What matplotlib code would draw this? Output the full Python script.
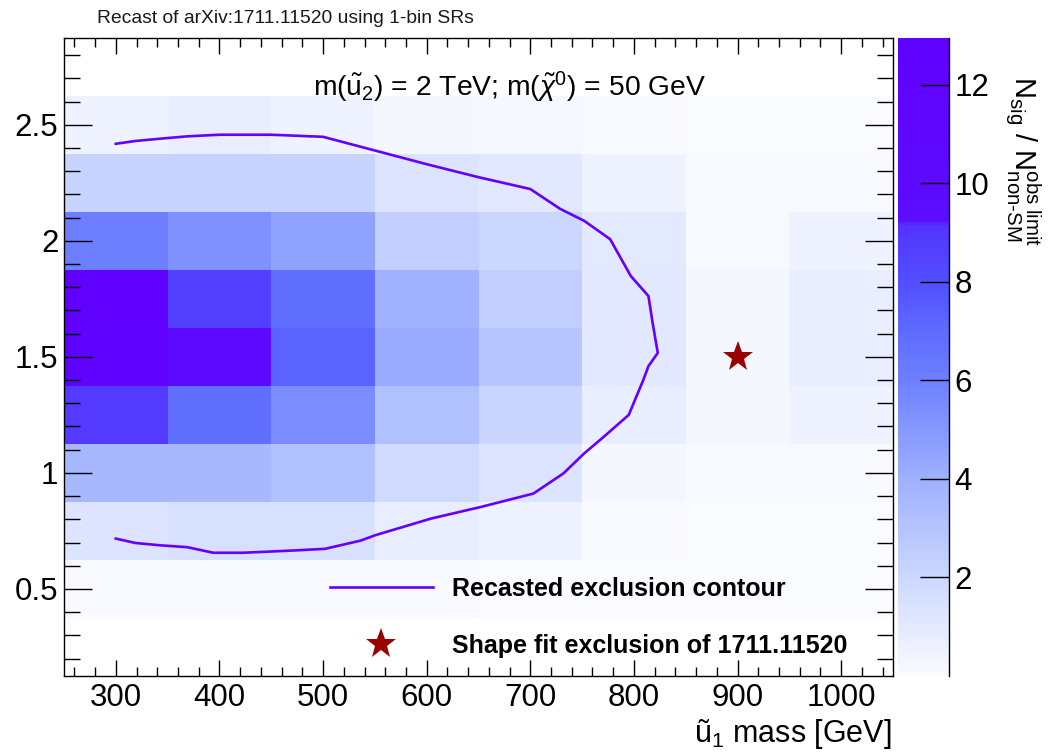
import numpy as np
import matplotlib
matplotlib.use('Agg')
import matplotlib.pyplot as plt
from matplotlib.colors import LinearSegmentedColormap, Normalize
from matplotlib.ticker import MultipleLocator, FixedLocator

plt.rcParams['font.family'] = ['Liberation Sans', 'DejaVu Sans']
plt.rcParams['mathtext.fontset'] = 'custom'
plt.rcParams['mathtext.rm'] = 'Liberation Sans'
plt.rcParams['mathtext.it'] = 'Liberation Sans:italic'
plt.rcParams['mathtext.bf'] = 'Liberation Sans:bold'

# ---------------- data ----------------
mass_u1 = [300, 400, 500, 600, 700, 800, 900, 1000]          # x bin centres [GeV]
y_values = [0.5, 0.75, 1.0, 1.25, 1.5, 1.75, 2.0, 2.25, 2.5]  # y bin centres

# N_sig / N_obs-limit, one row per y bin (bottom -> top), columns follow mass_u1
row_050 = [0.10, 0.10, 0.08, 0.08, 0.05, 0.03, 0.02, 0.02]
row_075 = [1.30, 1.50, 1.50, 0.80, 0.50, 0.10, 0.05, 0.05]
row_100 = [3.60, 3.60, 3.20, 1.80, 1.30, 0.25, 0.10, 0.10]
row_125 = [8.90, 6.80, 5.50, 3.20, 2.10, 0.80, 0.25, 0.50]
row_150 = [12.30, 10.50, 7.30, 4.20, 2.90, 1.10, 0.25, 0.75]
row_175 = [12.96, 8.60, 6.80, 3.90, 2.50, 1.10, 0.25, 0.75]
row_200 = [6.00, 5.30, 4.60, 2.50, 2.00, 1.00, 0.15, 0.50]
row_225 = [2.20, 2.30, 2.20, 1.30, 1.10, 0.50, 0.10, 0.10]
row_250 = [0.50, 0.80, 0.50, 0.25, 0.20, 0.10, 0.00, 0.02]

contour_x = [300, 319, 343, 369, 400, 450, 500, 550, 600, 650, 700, 729, 752, 777,
             797, 814, 818, 823, 814, 809, 795, 771, 752, 732, 703, 652, 604, 550,
             536, 502, 473, 423, 394, 369, 343, 319, 300]
contour_y = [2.418, 2.43, 2.44, 2.45, 2.457, 2.457, 2.448, 2.389, 2.33, 2.274, 2.223,
             2.137, 2.086, 2.007, 1.848, 1.762, 1.647, 1.517, 1.46, 1.40, 1.25, 1.156,
             1.084, 0.998, 0.911, 0.853, 0.803, 0.731, 0.708, 0.673, 0.666, 0.656,
             0.656, 0.68, 0.688, 0.698, 0.717]

shape_fit_x = [900]
shape_fit_y = [1.5]

title_text = "Recast of arXiv:1711.11520 using 1-bin SRs"
info_text = r"m($\mathrm{\tilde{u}_{2}}$) = 2 TeV; m($\tilde{\chi}^{0}$) = 50 GeV"
xlabel_text = r"ũ$_{1}$ mass [GeV]"
zlabel_text = r"$\mathrm{N_{sig}\ /\ N^{obs\ limit}_{non\text{-}SM}}$"
legend_labels = ["Recasted exclusion contour", "Shape fit exclusion of 1711.11520"]

# ---------------- figure ----------------
W, H = 1053, 755
fig = plt.figure(figsize=(W / 100, H / 100), dpi=100)

ax_l, ax_r, ax_t, ax_b = 64, 893, 37.7, 676
ax = fig.add_axes([ax_l / W, 1 - ax_b / H, (ax_r - ax_l) / W, (ax_b - ax_t) / H])
cax = fig.add_axes([898 / W, 1 - ax_b / H, 51 / W, (ax_b - ax_t) / H])

Z = np.array([row_050, row_075, row_100, row_125, row_150, row_175, row_200, row_225, row_250])
xc = np.array(mass_u1, dtype=float)
yc = np.array(y_values, dtype=float)
dx = xc[1] - xc[0]
dy = yc[1] - yc[0]
x_edges = np.append(xc - dx / 2, xc[-1] + dx / 2)
y_edges = np.append(yc - dy / 2, yc[-1] + dy / 2)

vmin, vmax = 0.0, float(Z.max())
anchors = [
    (0.0, (0.98, 0.985, 1.0)),
    (2.0, (0.80, 0.845, 1.0)),
    (4.0, (0.62, 0.69, 1.0)),
    (6.0, (0.43, 0.50, 1.0)),
    (7.0, (0.37, 0.42, 1.0)),
    (8.0, (0.32, 0.31, 1.0)),
    (9.15, (0.33, 0.20, 1.0)),
    (9.25, (0.36, 0.05, 1.0)),
    (vmax, (0.375, 0.0, 1.0)),
]
cmap = LinearSegmentedColormap.from_list(
    "rootblue", [((v - vmin) / (vmax - vmin), c) for v, c in anchors], N=512)
norm = Normalize(vmin=vmin, vmax=vmax)

mesh = ax.pcolormesh(x_edges, y_edges, Z, cmap=cmap, norm=norm, shading='flat')

line_color = '#6400ff'
contour_line, = ax.plot(contour_x, contour_y, color=line_color, lw=1.9, solid_joinstyle='round')
star, = ax.plot(shape_fit_x, shape_fit_y, ls='none', marker='*', ms=23,
                color='#990000', markeredgewidth=0)

ax.set_xlim(250, 1050)
ax.set_ylim(0.125, 2.875)

ax.xaxis.set_major_locator(MultipleLocator(100))
ax.xaxis.set_minor_locator(MultipleLocator(20))
ax.yaxis.set_major_locator(MultipleLocator(0.5))
ax.yaxis.set_minor_locator(MultipleLocator(0.1))
ax.yaxis.set_major_formatter(matplotlib.ticker.FuncFormatter(lambda v, p: f"{v:g}"))

ax.tick_params(which='both', direction='in', top=True, right=True, width=1.0, colors='black')
ax.tick_params(axis='x', which='major', length=11.5, labelsize=22.5, pad=5)
ax.tick_params(axis='x', which='minor', length=6.3)
ax.tick_params(axis='y', which='major', length=20, labelsize=22.5, pad=4)
ax.tick_params(axis='y', which='minor', length=11.5)
for s in ax.spines.values():
    s.set_linewidth(1.0)

# colorbar
cb = fig.colorbar(mesh, cax=cax)
cb.outline.set_visible(False)
cax.yaxis.set_ticks_position('right')
cax.yaxis.set_major_locator(FixedLocator([2, 4, 6, 8, 10, 12]))
cax.yaxis.set_minor_locator(FixedLocator([]))
cax.tick_params(axis='y', which='major', direction='in', length=21, width=1.0,
                labelsize=22.5, pad=4)
cax.plot([1, 1], [0, 1], transform=cax.transAxes, color='black', lw=1.0, clip_on=False)

# texts
fig.text(97 / W, 1 - 22.7 / H, title_text, fontsize=13.9, ha='left', va='baseline', color='#1a1a1a')
fig.text(313 / W, 1 - 96.7 / H, info_text, fontsize=20.3, ha='left', va='baseline')
fig.text(891.7 / W, 1 - 742 / H, xlabel_text, fontsize=22, ha='right', va='baseline')
fig.text(1023 / W, 1 - 76 / H, zlabel_text, fontsize=21, rotation=-90, ha='center', va='top')

# legend
leg = ax.legend([contour_line, star], legend_labels, loc='upper left',
                bbox_to_anchor=((330 - ax_l) / (ax_r - ax_l), (ax_b - 577) / (ax_b - ax_t)),
                frameon=False, prop={'weight': 'bold', 'size': 18},
                handlelength=4.1, handletextpad=0.8, labelspacing=1.3,
                borderaxespad=0, borderpad=0, numpoints=1)

fig.savefig('out.png', dpi=100)
